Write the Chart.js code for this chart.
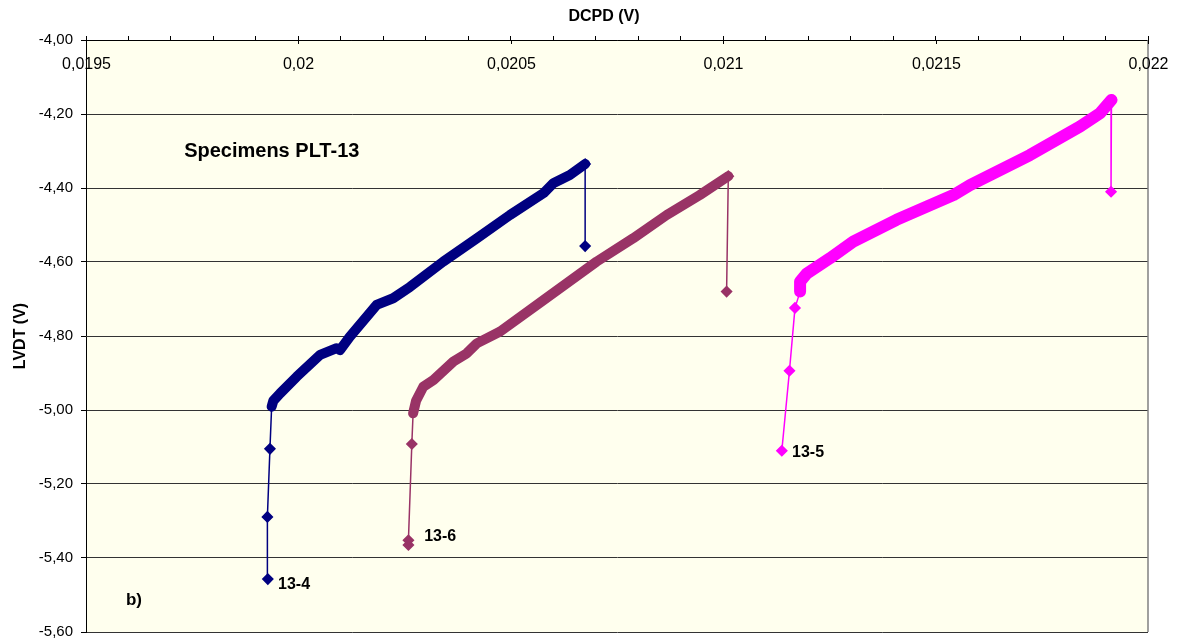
<!DOCTYPE html>
<html>
<head>
<meta charset="utf-8">
<script src="https://cdn.jsdelivr.net/npm/chart.js@4/dist/chart.umd.min.js"></script>
<style>
    body { margin: 0; background: #ffffff; }
    #wrap { width: 1178px; height: 643px; position: relative; }
</style>
</head>
<body>
<div id="wrap"><canvas id="lvdtChart"></canvas></div>
<script>
// ==================== DATA ====================
// Specimen 13-4
const dcpd134 = [0.019928, 0.019927, 0.019933, 0.019937, 0.019941, 0.019957, 0.019996, 0.020051, 0.020090, 0.020098,
                 0.020121, 0.020184, 0.020223, 0.020263, 0.020341, 0.020420, 0.020498, 0.020577, 0.020600, 0.020639,
                 0.020675, 0.020675];
const lvdt134 = [-5.457, -5.289, -5.105, -4.991, -4.975, -4.955, -4.910, -4.851, -4.833, -4.838,
                 -4.802, -4.716, -4.698, -4.667, -4.599, -4.536, -4.473, -4.414, -4.387, -4.365,
                 -4.335, -4.557];

// Specimen 13-6
const dcpd136 = [0.020259, 0.020259, 0.020267, 0.020270, 0.020277, 0.020294, 0.020318, 0.020365, 0.020396, 0.020420,
                 0.020475, 0.020577, 0.020702, 0.020788, 0.020867, 0.020945, 0.021012, 0.021008];
const lvdt136 = [-5.365, -5.352, -5.092, -5.009, -4.975, -4.937, -4.919, -4.869, -4.847, -4.820,
                 -4.788, -4.703, -4.599, -4.536, -4.473, -4.419, -4.368, -4.680];

// Specimen 13-5
const dcpd135 = [0.021138, 0.021156, 0.021169, 0.021181, 0.021181, 0.021197, 0.021251, 0.021306, 0.021408, 0.021542,
                 0.021581, 0.021722, 0.021840, 0.021887, 0.021914, 0.021913];
const lvdt135 = [-5.110, -4.894, -4.724, -4.680, -4.653, -4.631, -4.590, -4.545, -4.486, -4.419,
                 -4.392, -4.311, -4.234, -4.198, -4.162, -4.410];

const seriesNames = ['13-4', '13-6', '13-5'];
const xTickValues = [0.0195, 0.02, 0.0205, 0.021, 0.0215, 0.022];
const xTickLabels = ['0,0195', '0,02', '0,0205', '0,021', '0,0215', '0,022'];

// ==================== HELPERS ====================
const FONT = 'Liberation Sans, Arial, sans-serif';
Chart.defaults.font.family = FONT;
Chart.defaults.color = '#000';

function toPoints(xs, ys) {
    return xs.map((x, i) => ({ x: x, y: ys[i] }));
}

// head = number of sparse points before the dense band, last point is the drop
function makeSeries(label, xs, ys, color, head, band) {
    const n = xs.length;
    return {
        label: label,
        data: toPoints(xs, ys),
        showLine: true,
        borderColor: color,
        backgroundColor: color,
        pointBackgroundColor: color,
        pointBorderColor: color,
        pointStyle: 'rectRot',
        pointRadius: ctx => (ctx.dataIndex < head || ctx.dataIndex >= n - 2) ? 5 : 0,
        pointHoverRadius: 5,
        borderWidth: 1.5,
        borderCapStyle: 'round',
        borderJoinStyle: 'round',
        tension: 0,
        segment: {
            borderWidth: ctx => (ctx.p0DataIndex >= head && ctx.p1DataIndex <= n - 2) ? band : 1.5
        }
    };
}

// ==================== PLUGIN ====================
const decorPlugin = {
    id: 'decor',
    beforeDraw(chart) {
        const { ctx, chartArea: a } = chart;
        ctx.save();
        ctx.fillStyle = '#FFFFEE';
        ctx.fillRect(a.left, a.top, a.right - a.left, a.bottom - a.top);
        ctx.restore();
    },
    afterDraw(chart) {
        const { ctx, chartArea: a } = chart;
        const xs = chart.scales.x;
        const ys = chart.scales.y;
        ctx.save();
        // right border
        ctx.strokeStyle = '#808080';
        ctx.lineWidth = 1.5;
        ctx.beginPath();
        ctx.moveTo(a.right, a.top);
        ctx.lineTo(a.right, a.bottom);
        ctx.stroke();

        // x title, a bit left of centre like the original
        ctx.fillStyle = '#000';
        ctx.font = 'bold 16px ' + FONT;
        ctx.textAlign = 'center';
        ctx.textBaseline = 'middle';
        ctx.fillText('DCPD (V)', 604, 17);

        // major ticks cross the axis, labels sit inside the plot
        ctx.strokeStyle = '#000';
        ctx.lineWidth = 1;
        ctx.font = '16px ' + FONT;
        xTickValues.forEach((v, i) => {
            const px = Math.round(xs.getPixelForValue(v)) + 0.5;
            ctx.beginPath();
            ctx.moveTo(px, a.top);
            ctx.lineTo(px, a.top + 4);
            ctx.stroke();
            ctx.fillText(xTickLabels[i], px, a.top + 25);
        });

        // text annotations
        const notes = [
            { text: 'Specimens PLT-13', x: 0.019731, y: -4.300, size: 20 },
            { text: 'b)', x: 0.019594, y: -5.514, size: 17 },
            { text: seriesNames[0], x: 0.019952, y: -5.473, size: 16 },
            { text: seriesNames[1], x: 0.020296, y: -5.343, size: 16 },
            { text: seriesNames[2], x: 0.021162, y: -5.114, size: 16 }
        ];
        ctx.textAlign = 'left';
        notes.forEach(n => {
            ctx.font = 'bold ' + n.size + 'px ' + FONT;
            ctx.fillText(n.text, xs.getPixelForValue(n.x), ys.getPixelForValue(n.y));
        });
        ctx.restore();
    }
};

// ==================== CHART ====================
const chartCtx = document.getElementById('lvdtChart').getContext('2d');
const lvdtChart = new Chart(chartCtx, {
    type: 'scatter',
    data: {
        datasets: [
            makeSeries(seriesNames[0], dcpd134, lvdt134, '#000080', 3, 10),
            makeSeries(seriesNames[1], dcpd136, lvdt136, '#993366', 3, 10),
            makeSeries(seriesNames[2], dcpd135, lvdt135, '#FF00FF', 3, 12)
        ]
    },
    options: {
        responsive: true,
        maintainAspectRatio: false,
        animation: false,
        layout: { padding: { left: 7, right: 30, top: 0, bottom: 11 } },
        plugins: {
            legend: { display: false },
            tooltip: { enabled: false }
        },
        scales: {
            x: {
                type: 'linear',
                position: 'top',
                min: 0.0195,
                max: 0.022,
                afterFit: scale => { scale.height = 40; },
                ticks: { display: false, stepSize: 0.0001 },
                grid: { drawOnChartArea: false, tickLength: 4, color: '#000' },
                border: { color: '#000', width: 1 },
                title: { display: false }
            },
            y: {
                type: 'linear',
                min: -5.6,
                max: -4.0,
                afterFit: scale => {
                    scale.width = 79;
                    scale.paddingTop = 0;
                    scale.paddingBottom = 0;
                },
                ticks: {
                    stepSize: 0.2,
                    padding: 8,
                    font: { size: 15 },
                    color: '#000',
                    callback: v => v.toFixed(2).replace('.', ',')
                },
                grid: { color: '#333', lineWidth: 1, tickLength: 5, tickColor: '#000' },
                border: { color: '#000', width: 1 },
                title: {
                    display: true,
                    text: 'LVDT (V)',
                    font: { size: 16, weight: 'bold' },
                    padding: { top: 4, bottom: 4 }
                }
            }
        }
    },
    plugins: [decorPlugin]
});
</script>
</body>
</html>
